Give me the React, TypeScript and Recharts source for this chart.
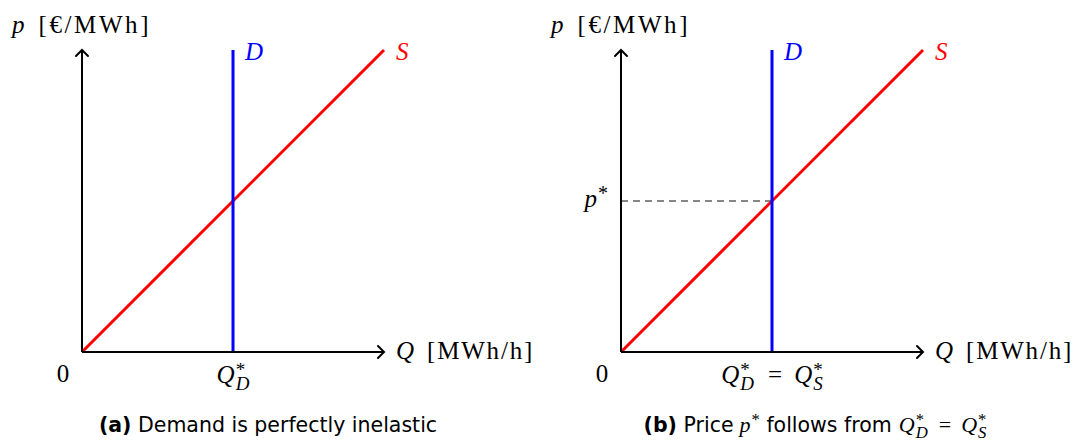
import React from 'react';
import { LineChart, Line, XAxis, YAxis, ReferenceLine } from 'recharts';

// supply curve S: price rises linearly with quantity
const supplyQuantity = [0, 10];
const supplyPrice = [0, 10];
// demand curve D: perfectly inelastic at Q*_D
const demandQuantity = [5, 5];
const demandPrice = [0, 10];
// market clearing point
const clearingQuantity = 5;
const clearingPrice = 5;

const supply = supplyQuantity.map((q, i) => ({ q, p: supplyPrice[i] }));
const demand = demandQuantity.map((q, i) => ({ q, p: demandPrice[i] }));

const W = 539;
const H = 445;
const SERIF = '"Liberation Serif", "Times New Roman", serif';
const SANS = '"DejaVu Sans", "Open Sans", sans-serif';
const MATH = 25;
const RED = '#ff0000';
const BLUE = '#0000ff';
const ARROW = 'axis-arrow';

// Q with a stacked * superscript and a subscript; leaves the pen size*0.28 below the baseline
const QStar = ({ sub, size, dx = 0, dy = 0 }: { sub: string; size: number; dx?: number; dy?: number }) => (
  <>
    <tspan fontStyle="italic" dx={dx} dy={dy}>Q</tspan>
    <tspan fontSize={size * 0.76} dx={1} dy={-size * 0.3}>*</tspan>
    <tspan fontStyle="italic" fontSize={size * 0.76} dx={-size * 0.38} dy={size * 0.58}>{sub}</tspan>
  </>
);

const QTick = ({ x, y, payload, cleared }: any) => {
  if (payload.value === 0) {
    return (
      <text x={x - 19} y={y + 30} textAnchor="middle" fontFamily={SERIF} fontSize={MATH} fill="#000">0</text>
    );
  }
  return (
    <text x={x} y={y + 31} textAnchor="middle" fontFamily={SERIF} fontSize={MATH} fill="#000">
      <QStar sub="D" size={MATH} />
      {cleared && (
        <>
          <tspan dx={14} dy={-MATH * 0.28}>=</tspan>
          <QStar sub="S" size={MATH} dx={12} />
        </>
      )}
    </text>
  );
};

const PTick = ({ x, y }: any) => (
  <text x={x - 13} y={y + 6} textAnchor="end" fontFamily={SERIF} fontSize={MATH} fill="#000">
    <tspan fontStyle="italic">p</tspan>
    <tspan fontSize={MATH * 0.8} dx={1} dy={-MATH * 0.3}>*</tspan>
  </text>
);

const xLabel = ({ viewBox }: any) => (
  <text x={viewBox.x + viewBox.width + 12} y={viewBox.y + 7} fontFamily={SERIF} fontSize={MATH} fill="#000">
    <tspan fontStyle="italic">Q</tspan>
    <tspan dx={13} letterSpacing={1.8}>[MWh/h]</tspan>
  </text>
);

const yLabel = ({ viewBox }: any) => (
  <text x={viewBox.x + viewBox.width - 70} y={viewBox.y - 17} fontFamily={SERIF} fontSize={MATH} fill="#000">
    <tspan fontStyle="italic">p</tspan>
    <tspan dx={14} letterSpacing={2.6}>[€/MWh]</tspan>
  </text>
);

const endLabel = (name: string, color: string, last: number) => (props: any) => {
  if (props.index !== last) return null;
  return (
    <text x={props.x + 12} y={props.y + 10} fontFamily={SERIF} fontStyle="italic" fontSize={MATH} fill={color}>
      {name}
    </text>
  );
};

const Panel = ({ cleared }: { cleared: boolean }) => (
  <LineChart width={W} height={H} margin={{ top: 50, right: 155, bottom: 63, left: 22 }}>
    <XAxis
      type="number"
      dataKey="q"
      domain={[0, 10]}
      ticks={[0, clearingQuantity]}
      height={30}
      tickSize={0}
      tickMargin={0}
      tickLine={false}
      axisLine={{ stroke: '#000', strokeWidth: 2, markerEnd: `url(#${ARROW})` }}
      tick={(props: any) => <QTick {...props} cleared={cleared} />}
      label={xLabel}
    />
    <YAxis
      type="number"
      dataKey="p"
      domain={[0, 10]}
      ticks={[clearingPrice]}
      width={60}
      tickSize={0}
      tickMargin={0}
      tickLine={false}
      axisLine={{ stroke: '#000', strokeWidth: 2, markerStart: `url(#${ARROW})` }}
      tick={cleared ? PTick : false}
      label={yLabel}
    />
    {cleared && (
      <ReferenceLine
        segment={[{ x: 0, y: clearingPrice }, { x: clearingQuantity, y: clearingPrice }]}
        stroke="#5f5f5f"
        strokeWidth={1.5}
        strokeDasharray="7 5"
      />
    )}
    <Line
      data={supply}
      dataKey="p"
      type="linear"
      stroke={RED}
      strokeWidth={3}
      dot={false}
      isAnimationActive={false}
      label={endLabel('S', RED, supply.length - 1)}
    />
    <Line
      data={demand}
      dataKey="p"
      type="linear"
      stroke={BLUE}
      strokeWidth={3}
      dot={false}
      isAnimationActive={false}
      label={endLabel('D', BLUE, demand.length - 1)}
    />
  </LineChart>
);

const CAP = 20.5;
const CAP_MATH = 22;

export default function App() {
  return (
    <div style={{ position: 'absolute', left: 0, top: 0, width: 1078, height: 445, background: '#fff' }}>
      <div style={{ display: 'flex' }}>
        <Panel cleared={false} />
        <Panel cleared={true} />
      </div>
      <svg width={1078} height={445} style={{ position: 'absolute', left: 0, top: 0, pointerEvents: 'none' }}>
        <defs>
          <marker id={ARROW} viewBox="-10 -10 20 20" markerWidth={20} markerHeight={20} refX={0} refY={0}
            markerUnits="userSpaceOnUse" orient="auto-start-reverse">
            <path d="M -6 -6 Q -1.5 -1.5 0 0 Q -1.5 1.5 -6 6" fill="none" stroke="#000" strokeWidth={2} strokeLinecap="round" />
          </marker>
        </defs>
        <text x={268} y={432} textAnchor="middle" fontFamily={SANS} fontSize={CAP} fill="#000">
          <tspan fontWeight="bold">(a)</tspan> Demand is perfectly inelastic
        </text>
        <text x={815} y={432} textAnchor="middle" fontFamily={SANS} fontSize={CAP} fill="#000">
          <tspan fontWeight="bold">(b)</tspan> Price
          <tspan dx={6} fontFamily={SERIF} fontStyle="italic" fontSize={CAP_MATH}>p</tspan>
          <tspan fontFamily={SERIF} fontSize={CAP_MATH * 0.76} dx={1} dy={-7}>*</tspan>
          <tspan dy={7}> follows from</tspan>
          <tspan fontFamily={SERIF} fontSize={CAP_MATH}>
            <QStar sub="D" size={CAP_MATH} dx={7} />
            <tspan dx={11} dy={-CAP_MATH * 0.28}>=</tspan>
            <QStar sub="S" size={CAP_MATH} dx={10} />
          </tspan>
        </text>
      </svg>
    </div>
  );
}
